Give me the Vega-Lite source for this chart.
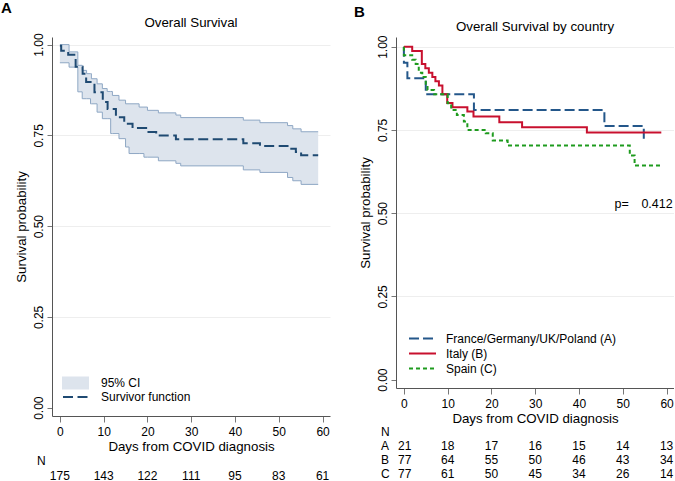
{
"$schema":"https://vega.github.io/schema/vega-lite/v6.json",
"padding":{"left":1,"top":0,"right":0,"bottom":0},
"config":{
 "font":"Liberation Sans",
 "view":{"stroke":null},
 "axis":{"labelFontSize":12,"titleFontSize":13.3,"titleFontWeight":"normal","labelColor":"#000","titleColor":"#000","domainColor":"#555555","tickColor":"#777777","labelFlush":false,"labelOverlap":false,"labelFont":"Liberation Sans","titleFont":"Liberation Sans"},
 "axisX":{"grid":false,"tickSize":6,"labelPadding":4,"titlePadding":2},
 "axisY":{"grid":true,"gridColor":{"condition":{"test":"datum.value===0","value":"transparent"},"value":"#eeeeee"},"tickSize":5,"labelPadding":2,"titlePadding":4,"labelAngle":-90,"labelAlign":"center","labelBaseline":"bottom"},
 "title":{"fontSize":13.3,"fontWeight":"normal","color":"#000","font":"Liberation Sans"},
 "legend":{"labelFontSize":12,"labelColor":"#000","labelFont":"Liberation Sans"},
 "text":{"font":"Liberation Sans","fontSize":12,"color":"#000"}
},
"datasets":{
 "ciA":[
  {"day":0,"hi":1.0,"lo":0.95},{"day":2.1,"hi":0.98,"lo":0.938},{"day":4.1,"hi":0.943,"lo":0.87},{"day":5.1,"hi":0.929,"lo":0.851},
  {"day":6.1,"hi":0.92,"lo":0.851},{"day":7.0,"hi":0.92,"lo":0.837},{"day":7.2,"hi":0.906,"lo":0.837},{"day":8.5,"hi":0.892,"lo":0.814},
  {"day":9.7,"hi":0.879,"lo":0.796},{"day":10.8,"hi":0.871,"lo":0.796},{"day":11.6,"hi":0.871,"lo":0.755},{"day":12,"hi":0.86,"lo":0.755},
  {"day":13.5,"hi":0.847,"lo":0.741},{"day":15,"hi":0.837,"lo":0.718},{"day":15.8,"hi":0.837,"lo":0.70},{"day":18.1,"hi":0.828,"lo":0.70},
  {"day":19.2,"hi":0.828,"lo":0.69},{"day":20,"hi":0.819,"lo":0.69},{"day":22.5,"hi":0.812,"lo":0.68},{"day":26.5,"hi":0.806,"lo":0.673},
  {"day":27.6,"hi":0.799,"lo":0.666},{"day":41.9,"hi":0.792,"lo":0.655},{"day":45.7,"hi":0.785,"lo":0.648},{"day":52,"hi":0.777,"lo":0.634},
  {"day":53.2,"hi":0.768,"lo":0.625},{"day":55.1,"hi":0.76,"lo":0.615},{"day":59,"hi":0.76,"lo":0.615}
 ],
 "survA":[
  {"day":0,"s":0.997},{"day":0.3,"s":0.983},{"day":1.9,"s":0.972},{"day":3.6,"s":0.939},{"day":5.2,"s":0.92},{"day":6.0,"s":0.897},
  {"day":7.9,"s":0.869},{"day":9.8,"s":0.842},{"day":10.9,"s":0.823},{"day":12.8,"s":0.8},{"day":14.7,"s":0.782},{"day":16.6,"s":0.77},
  {"day":19.7,"s":0.759},{"day":22.0,"s":0.75},{"day":26.5,"s":0.739},{"day":41.9,"s":0.728},{"day":45.7,"s":0.721},{"day":52.0,"s":0.713},
  {"day":53.9,"s":0.704},{"day":55.1,"s":0.695},{"day":59,"s":0.695}
 ],
 "kmB":[
  {"country":"France/Germany/UK/Poland (A)","o":0,"day":0,"s":1.0},
  {"country":"France/Germany/UK/Poland (A)","o":1,"day":0,"s":0.952},
  {"country":"France/Germany/UK/Poland (A)","o":2,"day":0.8,"s":0.905},
  {"country":"France/Germany/UK/Poland (A)","o":3,"day":5.0,"s":0.857},
  {"country":"France/Germany/UK/Poland (A)","o":4,"day":16.0,"s":0.81},
  {"country":"France/Germany/UK/Poland (A)","o":5,"day":45.8,"s":0.762},
  {"country":"France/Germany/UK/Poland (A)","o":6,"day":54.8,"s":0.714},
  {"country":"Italy (B)","o":0,"day":0,"s":1.0},
  {"country":"Italy (B)","o":1,"day":1.9,"s":0.987},
  {"country":"Italy (B)","o":2,"day":4.1,"s":0.948},
  {"country":"Italy (B)","o":3,"day":4.9,"s":0.935},
  {"country":"Italy (B)","o":4,"day":5.7,"s":0.922},
  {"country":"Italy (B)","o":5,"day":6.5,"s":0.909},
  {"country":"Italy (B)","o":6,"day":7.2,"s":0.896},
  {"country":"Italy (B)","o":7,"day":8.0,"s":0.883},
  {"country":"Italy (B)","o":8,"day":8.8,"s":0.857},
  {"country":"Italy (B)","o":9,"day":9.9,"s":0.831},
  {"country":"Italy (B)","o":10,"day":11.1,"s":0.818},
  {"country":"Italy (B)","o":11,"day":14.5,"s":0.805},
  {"country":"Italy (B)","o":12,"day":15.9,"s":0.79},
  {"country":"Italy (B)","o":13,"day":21.8,"s":0.773},
  {"country":"Italy (B)","o":14,"day":27.0,"s":0.758},
  {"country":"Italy (B)","o":15,"day":41.8,"s":0.742},
  {"country":"Italy (B)","o":16,"day":58.8,"s":0.742},
  {"country":"Spain (C)","o":0,"day":0,"s":1.0},
  {"country":"Spain (C)","o":1,"day":0,"s":0.974},
  {"country":"Spain (C)","o":2,"day":1.9,"s":0.961},
  {"country":"Spain (C)","o":3,"day":2.7,"s":0.948},
  {"country":"Spain (C)","o":4,"day":3.4,"s":0.922},
  {"country":"Spain (C)","o":5,"day":4.2,"s":0.909},
  {"country":"Spain (C)","o":6,"day":5.0,"s":0.883},
  {"country":"Spain (C)","o":7,"day":5.4,"s":0.87},
  {"country":"Spain (C)","o":8,"day":6.9,"s":0.857},
  {"country":"Spain (C)","o":9,"day":10.0,"s":0.83},
  {"country":"Spain (C)","o":10,"day":10.8,"s":0.81},
  {"country":"Spain (C)","o":11,"day":12.1,"s":0.795},
  {"country":"Spain (C)","o":12,"day":13.7,"s":0.775},
  {"country":"Spain (C)","o":13,"day":14.5,"s":0.75},
  {"country":"Spain (C)","o":14,"day":18.7,"s":0.74},
  {"country":"Spain (C)","o":15,"day":20.3,"s":0.718},
  {"country":"Spain (C)","o":16,"day":23.7,"s":0.703},
  {"country":"Spain (C)","o":17,"day":51.6,"s":0.673},
  {"country":"Spain (C)","o":18,"day":52.7,"s":0.643},
  {"country":"Spain (C)","o":19,"day":58.9,"s":0.643}
 ],
 "pval":[{"kind":"p","day":48.1,"s":0.529,"label":"p="},{"kind":"v","day":61.4,"s":0.529,"label":"0.412"}],
 "tabA":[
  {"kind":"lab","row":"N","day":-5.2,"label":"N"},
  {"kind":"num","row":"v","day":0,"label":"175"},{"kind":"num","row":"v","day":10,"label":"143"},{"kind":"num","row":"v","day":20,"label":"122"},
  {"kind":"num","row":"v","day":30,"label":"111"},{"kind":"num","row":"v","day":40,"label":"95"},{"kind":"num","row":"v","day":50,"label":"83"},
  {"kind":"num","row":"v","day":60,"label":"61"}
 ],
 "tabB":[
  {"kind":"lab","row":"N","day":-5.2,"label":"N"},
  {"kind":"lab","row":"A","day":-5.2,"label":"A"},
  {"kind":"lab","row":"B","day":-5.2,"label":"B"},
  {"kind":"lab","row":"C","day":-5.2,"label":"C"},
  {"kind":"num","row":"A","day":0.2,"label":"21"},{"kind":"num","row":"A","day":10,"label":"18"},{"kind":"num","row":"A","day":20,"label":"17"},
  {"kind":"num","row":"A","day":30,"label":"16"},{"kind":"num","row":"A","day":40,"label":"15"},{"kind":"num","row":"A","day":50,"label":"14"},{"kind":"num","row":"A","day":60,"label":"13"},
  {"kind":"num","row":"B","day":0.2,"label":"77"},{"kind":"num","row":"B","day":10,"label":"64"},{"kind":"num","row":"B","day":20,"label":"55"},
  {"kind":"num","row":"B","day":30,"label":"50"},{"kind":"num","row":"B","day":40,"label":"46"},{"kind":"num","row":"B","day":50,"label":"43"},{"kind":"num","row":"B","day":60,"label":"34"},
  {"kind":"num","row":"C","day":0.2,"label":"77"},{"kind":"num","row":"C","day":10,"label":"61"},{"kind":"num","row":"C","day":20,"label":"50"},
  {"kind":"num","row":"C","day":30,"label":"45"},{"kind":"num","row":"C","day":40,"label":"34"},{"kind":"num","row":"C","day":50,"label":"26"},{"kind":"num","row":"C","day":60,"label":"14"}
 ]
},
"spacing":24,
"resolve":{"scale":{"color":"independent","strokeDash":"independent","fill":"independent","stroke":"independent"},"legend":{"color":"independent","strokeDash":"independent","fill":"independent","stroke":"independent"}},
"hconcat":[
 {
  "title":{"text":"A","anchor":"start","fontSize":15,"fontWeight":"bold","dx":-13,"offset":0},
  "spacing":-1,
  "resolve":{"scale":{"fill":"independent","stroke":"independent"},"legend":{"fill":"independent","stroke":"independent"}},
  "vconcat":[
   {
    "width":278,"height":379,
    "title":{"text":"Overall Survival","offset":4},
    "layer":[
     {"data":{"name":"ciA"},"mark":{"type":"area","interpolate":"step-after","opacity":1},
      "encoding":{
       "x":{"field":"day","type":"quantitative","scale":{"domain":[-1.8,61.7],"nice":false,"zero":false},"axis":{"title":"Days from COVID diagnosis","values":[0,10,20,30,40,50,60]}},
       "y":{"field":"hi","type":"quantitative","scale":{"domain":[-0.023,1.021],"nice":false,"zero":false},"axis":{"title":"Survival probability","values":[0,0.25,0.5,0.75,1],"format":".2f"}},
       "y2":{"field":"lo"},
       "fill":{"datum":"95% CI","type":"nominal","scale":{"range":["#dde4ed"]},"legend":{"title":null,"orient":"none","legendX":10,"legendY":338,"symbolType":"M-1,-0.48H1V0.48H-1Z","symbolSize":729,"symbolStrokeWidth":0,"symbolOpacity":1,"clipHeight":16,"labelOffset":12}}
      }},
     {"data":{"name":"ciA"},"mark":{"type":"line","interpolate":"step-after","color":"#8ea7c4","strokeWidth":1},
      "encoding":{"x":{"field":"day","type":"quantitative"},"y":{"field":"hi","type":"quantitative"}}},
     {"data":{"name":"ciA"},"mark":{"type":"line","interpolate":"step-after","color":"#8ea7c4","strokeWidth":1},
      "encoding":{"x":{"field":"day","type":"quantitative"},"y":{"field":"lo","type":"quantitative"}}},
     {"data":{"name":"survA"},"mark":{"type":"line","interpolate":"step-after","strokeWidth":2,"strokeDash":[10,4.5]},
      "encoding":{"x":{"field":"day","type":"quantitative"},"y":{"field":"s","type":"quantitative"},
       "stroke":{"datum":"Survivor function","type":"nominal","scale":{"range":["#1f4a72"]},"legend":{"title":null,"orient":"none","legendX":10,"legendY":352,"symbolType":"stroke","symbolSize":729,"symbolStrokeWidth":2,"symbolDash":[10,4.5],"clipHeight":16,"labelOffset":10}}}}
    ]
   },
   {
    "width":278,"height":30,
    "data":{"name":"tabA"},
    "encoding":{
     "x":{"field":"day","type":"quantitative","scale":{"domain":[-1.8,61.7],"nice":false,"zero":false},"axis":null},
     "y":{"field":"row","type":"nominal","scale":{"domain":["N","v"],"paddingInner":0,"paddingOuter":0},"axis":null},
     "text":{"field":"label","type":"nominal"}
    },
    "layer":[
     {"transform":[{"filter":"datum.kind==='lab'"}],"mark":{"type":"text","align":"left","fontSize":12}},
     {"transform":[{"filter":"datum.kind==='num'"}],"mark":{"type":"text","align":"center","fontSize":12}}
    ]
   }
  ]
 },
 {
  "title":{"text":"B","anchor":"start","fontSize":15,"fontWeight":"bold","dx":-4,"offset":0},
  "spacing":0,
  "resolve":{"scale":{"color":"independent","strokeDash":"independent"},"legend":{"color":"independent","strokeDash":"independent"}},
  "vconcat":[
   {
    "width":278,"height":351,
    "title":{"text":"Overall Survival by country","offset":2},
    "layer":[
     {"data":{"name":"kmB"},"mark":{"type":"line","interpolate":"step-after","strokeWidth":2},
      "encoding":{
       "x":{"field":"day","type":"quantitative","scale":{"domain":[-1.8,61.7],"nice":false,"zero":false},"axis":{"title":"Days from COVID diagnosis","values":[0,10,20,30,40,50,60]}},
       "y":{"field":"s","type":"quantitative","scale":{"domain":[-0.025,1.029],"nice":false,"zero":false},"axis":{"title":"Survival probability","values":[0,0.25,0.5,0.75,1],"format":".2f"}},
       "order":{"field":"o","type":"quantitative"},
       "color":{"field":"country","type":"nominal","scale":{"domain":["France/Germany/UK/Poland (A)","Italy (B)","Spain (C)"],"range":["#24578a","#c8102e","#1e9b1e"]},
        "legend":{"title":null,"orient":"bottom-left","offset":12,"symbolType":"stroke","symbolSize":729,"symbolStrokeWidth":2,"clipHeight":15,"rowPadding":0,"labelOffset":9,"labelLimit":300}},
       "strokeDash":{"field":"country","type":"nominal","scale":{"domain":["France/Germany/UK/Poland (A)","Italy (B)","Spain (C)"],"range":[[10,4],[1,0],[4,3]]},
        "legend":{"title":null,"orient":"bottom-left","offset":12,"symbolType":"stroke","symbolSize":729,"symbolStrokeWidth":2,"clipHeight":15,"rowPadding":0,"labelOffset":9,"labelLimit":300}}
      }},
     {"data":{"name":"pval"},"transform":[{"filter":"datum.kind==='p'"}],"mark":{"type":"text","align":"left","fontSize":12.5},
      "encoding":{"x":{"field":"day","type":"quantitative"},"y":{"field":"s","type":"quantitative"},"text":{"field":"label","type":"nominal"}}},
     {"data":{"name":"pval"},"transform":[{"filter":"datum.kind==='v'"}],"mark":{"type":"text","align":"right","fontSize":12.5},
      "encoding":{"x":{"field":"day","type":"quantitative"},"y":{"field":"s","type":"quantitative"},"text":{"field":"label","type":"nominal"}}}
    ]
   },
   {
    "width":278,"height":56,
    "data":{"name":"tabB"},
    "encoding":{
     "x":{"field":"day","type":"quantitative","scale":{"domain":[-1.8,61.7],"nice":false,"zero":false},"axis":null},
     "y":{"field":"row","type":"nominal","scale":{"domain":["N","A","B","C"],"paddingInner":0,"paddingOuter":0},"axis":null},
     "text":{"field":"label","type":"nominal"}
    },
    "layer":[
     {"transform":[{"filter":"datum.kind==='lab'"}],"mark":{"type":"text","align":"left","fontSize":12}},
     {"transform":[{"filter":"datum.kind==='num'"}],"mark":{"type":"text","align":"center","fontSize":12}}
    ]
   }
  ]
 }
]
}
